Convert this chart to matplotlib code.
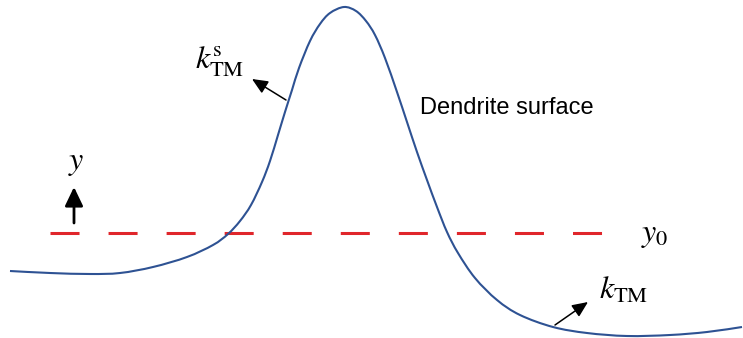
import matplotlib.pyplot as plt
from matplotlib.path import Path
from matplotlib.patches import PathPatch

plt.rcParams['mathtext.fontset'] = 'stix'

# curva da superficie (coordenadas, em pixels)
curve_x = [10, 50, 90, 120, 153, 187, 213, 228, 240, 251, 262, 270, 278, 285,
           292, 299, 310, 320, 330, 344, 356, 366, 375, 385, 397, 407, 417,
           427, 437, 447, 458, 475, 497, 520, 553, 587, 627, 670, 707, 742]
curve_y = [271, 273, 274, 273, 267, 257, 245, 234, 221, 205, 182, 161, 135, 112,
           90, 68, 41, 24, 13, 7, 11, 21, 35, 58, 92, 122, 152,
           180, 207, 232, 253, 278, 300, 315, 327, 333, 336, 335, 332, 327]

y0_level = 233
y0_span = [50, 611]

# setas: (cauda, ponta)
arrows = {
    'ks':  ((286, 100), (252, 79)),
    'k':   ((555, 325), (588, 302)),
}
y_arrow = ((74, 223), (74, 187))

labels = {
    'ks':  (220, 62, r'$k_{\mathrm{TM}}^{\mathrm{s}}$'),
    'k':   (624, 290, r'$k_{\mathrm{TM}}$'),
    'y':   (76, 163, r'$y$'),
    'y0':  (655, 234, r'$y_0$'),
}


def smooth_path(xs, ys):
    # Catmull-Rom -> segmentos Bezier cubicos passando pelos pontos lidos
    pts = list(zip(xs, ys))
    n = len(pts)
    verts = [pts[0]]
    codes = [Path.MOVETO]
    for i in range(n - 1):
        p0 = pts[max(i - 1, 0)]
        p1 = pts[i]
        p2 = pts[i + 1]
        p3 = pts[min(i + 2, n - 1)]
        c1 = (p1[0] + (p2[0] - p0[0]) / 6, p1[1] + (p2[1] - p0[1]) / 6)
        c2 = (p2[0] - (p3[0] - p1[0]) / 6, p2[1] - (p3[1] - p1[1]) / 6)
        verts += [c1, c2, p2]
        codes += [Path.CURVE4] * 3
    return Path(verts, codes)


fig = plt.figure(figsize=(7.43, 3.38), dpi=100)
ax = fig.add_axes([0, 0, 1, 1])
ax.set_xlim(0, 743)
ax.set_ylim(338, 0)
ax.axis('off')

ax.add_patch(PathPatch(smooth_path(curve_x, curve_y), facecolor='none',
                       edgecolor='#2e5293', lw=1.5, zorder=3))
ax.plot(y0_span, [y0_level, y0_level], color='#e0262b', lw=2.2,
        dashes=(9.5, 9.5), zorder=2)

for key, (tail, tip) in arrows.items():
    ax.annotate('', xy=tip, xytext=tail,
                arrowprops=dict(arrowstyle='-|>,head_length=0.95,head_width=0.42',
                                mutation_scale=10, color='black', lw=1.1,
                                shrinkA=0, shrinkB=0))
ax.annotate('', xy=y_arrow[1], xytext=y_arrow[0],
            arrowprops=dict(arrowstyle='-|>,head_length=1.15,head_width=0.55',
                            mutation_scale=10, color='black', lw=2,
                            shrinkA=0, shrinkB=0))

for key, (x, y, s) in labels.items():
    ax.text(x, y, s, fontsize=23, ha='center', va='center')

ax.text(507, 108, 'Dendrite surface', fontsize=17, family='Liberation Sans',
        ha='center', va='center')

fig.savefig('out.png', dpi=100)
